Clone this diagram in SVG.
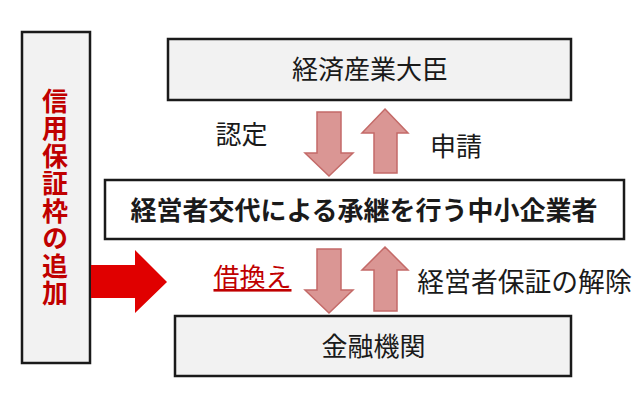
<svg xmlns="http://www.w3.org/2000/svg" width="640" height="400" viewBox="0 0 640 400">
<style>
.box{stroke:#1a1a1a;stroke-width:2.5}
.gray{fill:#f2f2f2}
.t{font-family:"Noto Sans CJK JP","Noto Sans",sans-serif;font-size:26px;fill:#1a1a1a}
.b{font-weight:bold}
.arr{fill:#da9694;stroke:#c46a68;stroke-width:1.5}
.red{fill:#c00000}
</style>
<rect width="640" height="400" fill="#ffffff"/>
<g id="credit">
<rect class="box gray" x="22" y="32" width="68" height="331"/>
<text class="t b red" x="55" y="88" writing-mode="vertical-rl" style="letter-spacing:1.5px">信用保証枠の追加</text>
</g>
<g id="meti">
<rect class="box gray" x="168" y="39" width="403" height="61"/>
<text class="t" x="370" y="79" text-anchor="middle">経済産業大臣</text>
</g>
<g id="sme">
<rect class="box" fill="#ffffff" x="105" y="180" width="519" height="59"/>
<text class="t b" x="364" y="220" text-anchor="middle">経営者交代による承継を行う中小企業者</text>
</g>
<g id="bank">
<rect class="box gray" x="175" y="316" width="396" height="60"/>
<text class="t" x="373.5" y="356" text-anchor="middle">金融機関</text>
</g>
<g id="connectors">
<polygon class="arr" points="317,112 341,112 341,153 353,153 329,176 305,153 317,153"/>
<polygon class="arr" points="385,109 408,133 397,133 397,173 374,173 374,133 362,133"/>
<polygon class="arr" points="317,249 341,249 341,290 353,290 329,313 305,290 317,290"/>
<polygon class="arr" points="385,247 408,270 397,270 397,311 374,311 374,270 362,270"/>
<polygon fill="#e00000" points="91,265 135,265 135,250 167,282 135,313 135,298 91,298"/>
</g>
<g id="labels">
<text class="t" x="241.5" y="144" text-anchor="middle">認定</text>
<text class="t" x="456" y="156" text-anchor="middle">申請</text>
<text class="t" x="252.5" y="287" text-anchor="middle" style="fill:#c00000" text-decoration="underline">借換え</text>
<text class="t" x="524.5" y="292" text-anchor="middle" style="font-size:26.8px">経営者保証の解除</text>
</g>
</svg>
